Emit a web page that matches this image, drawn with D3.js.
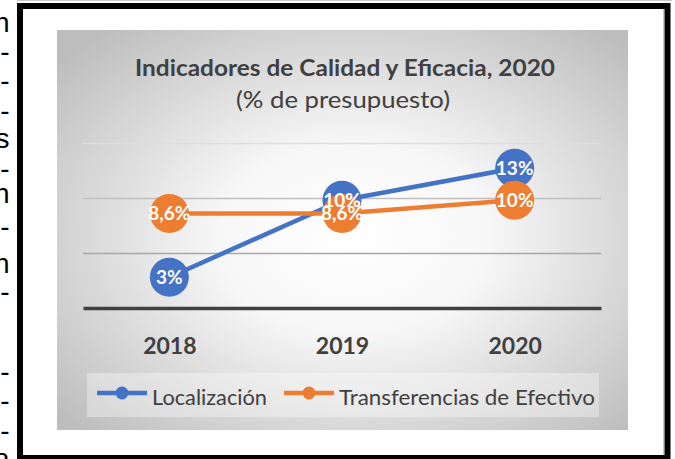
<!DOCTYPE html>
<html><head><meta charset="utf-8">
<script src="https://cdn.jsdelivr.net/npm/d3@7"></script>
<style>html,body{margin:0;padding:0;background:#fff;overflow:hidden}</style>
</head><body>
<script>
// ---- data ----
const years = ["2018", "2019", "2020"];
const localizacion = [2.8, 9.8, 12.7];
const transferencias = [8.6, 8.6, 9.8];
const localizacionLabels = ["3%", "10%", "13%"];
const transferenciasLabels = ["8,6%", "8,6%", "10%"];
const seriesNames = ["Localización", "Transferencias de Efectivo"];
const gridValues = [5, 10, 15];
const titleText = "Indicadores de Calidad y Eficacia, 2020";
const subtitleText = "(% de presupuesto)";
// clipped ends of the surrounding document's text lines
const marginChars = ["n", "-", "-", "-", "s", "-", "n", "-", "n", "-", "-", "-", "-", "a"];

// ---- styles / layout ----
const colors = ["#4472C4", "#ED7D31"];
const gridColors = {5: "#a8a8a8", 10: "#c0c0c0", 15: "#dedede"};
const marginY = [32, 61, 90, 120, 148, 178, 203, 236, 273, 301, 381, 410, 440, 468];
const W = 675, H = 459;
const font = "Lato, sans-serif";

const svg = d3.select("body").append("svg").attr("width", W).attr("height", H);
const defs = svg.append("defs");
const grad = defs.append("radialGradient").attr("id", "bg")
  .attr("cx", "52%").attr("cy", "52%").attr("r", "68%");
grad.append("stop").attr("offset", "0").attr("stop-color", "#ffffff");
grad.append("stop").attr("offset", "0.35").attr("stop-color", "#f7f7f7");
grad.append("stop").attr("offset", "1").attr("stop-color", "#bdbdbd");

// surrounding document text
svg.append("g").selectAll("text").data(marginChars).join("text")
  .attr("x", 9.5).attr("y", (d, i) => marginY[i])
  .attr("text-anchor", "end")
  .attr("font-family", "Liberation Sans, Arial, sans-serif")
  .attr("font-size", 28).attr("fill", "#000").text(d => d);

// page frame
svg.append("line").attr("x1", 17).attr("x2", 672).attr("y1", 0.5).attr("y2", 0.5)
  .attr("stroke", "#c8c8c8").attr("stroke-width", 1);
svg.append("line").attr("x1", 663.5).attr("x2", 663.5).attr("y1", 9).attr("y2", 455)
  .attr("stroke", "#c8c8c8").attr("stroke-width", 1);
svg.append("rect").attr("x", 20).attr("y", 6).attr("width", 647.5).attr("height", 452)
  .attr("fill", "none").attr("stroke", "#000").attr("stroke-width", 6);

// chart area
svg.append("rect").attr("x", 57).attr("y", 30).attr("width", 571).attr("height", 400)
  .attr("fill", "url(#bg)");

// title
svg.append("text").attr("x", 345).attr("y", 76).attr("text-anchor", "middle")
  .attr("font-family", font).attr("font-weight", "bold").attr("font-size", 22)
  .attr("fill", "#404040").attr("textLength", 420).attr("lengthAdjust", "spacingAndGlyphs")
  .text(titleText);
svg.append("text").attr("x", 343).attr("y", 108).attr("text-anchor", "middle")
  .attr("font-family", font).attr("font-size", 23)
  .attr("fill", "#404040").attr("textLength", 214).attr("lengthAdjust", "spacingAndGlyphs")
  .text(subtitleText);

// scales
const x = d3.scalePoint().domain(years).range([83, 601]).padding(0.5);
const y = d3.scaleLinear().domain([0, 15]).range([308, 143]);

// gridlines
const gridAxis = svg.append("g").attr("transform", "translate(83,0)")
  .call(d3.axisLeft(y).tickValues(gridValues).tickSize(-518).tickFormat(""));
gridAxis.select(".domain").remove();
gridAxis.selectAll(".tick line").attr("stroke", d => gridColors[d]).attr("stroke-width", 1.5);

// x axis
const xAxis = svg.append("g").attr("transform", `translate(0,${y(0)})`)
  .call(d3.axisBottom(x).tickSize(0).tickSizeOuter(0));
xAxis.select(".domain").attr("stroke", "#404040").attr("stroke-width", 3.5);
xAxis.selectAll(".tick text").attr("y", 46).attr("dy", 0)
  .attr("font-family", font).attr("font-weight", "bold").attr("font-size", 23)
  .attr("fill", "#404040");

// series
const series = [
  {vals: localizacion, labels: localizacionLabels, color: colors[0]},
  {vals: transferencias, labels: transferenciasLabels, color: colors[1]}
];
const line = d3.line().x((d, i) => x(years[i])).y(d => y(d));
series.forEach(s => {
  const g = svg.append("g");
  g.append("path").datum(s.vals).attr("d", line).attr("fill", "none")
    .attr("stroke", s.color).attr("stroke-width", 4.5).attr("stroke-linejoin", "round");
  g.selectAll("circle").data(s.vals).join("circle")
    .attr("cx", (d, i) => x(years[i])).attr("cy", d => y(d)).attr("r", 19.5)
    .attr("fill", s.color);
});
series.forEach(s => {
  svg.append("g").selectAll("text").data(s.vals).join("text")
    .attr("x", (d, i) => x(years[i])).attr("y", d => y(d)).attr("dy", "0.36em")
    .attr("text-anchor", "middle").attr("font-family", font).attr("font-weight", "bold")
    .attr("font-size", 19).attr("fill", "#fff").text((d, i) => s.labels[i]);
});

// legend
svg.append("rect").attr("x", 87).attr("y", 373).attr("width", 512).attr("height", 44)
  .attr("fill", "#ffffff").attr("fill-opacity", 0.35);
const legendX = [97, 284];
const legendW = [115, 256];
seriesNames.forEach((name, i) => {
  const g = svg.append("g").attr("transform", `translate(${legendX[i]},393)`);
  g.append("line").attr("x1", 0).attr("x2", 50).attr("stroke", colors[i]).attr("stroke-width", 4.5);
  g.append("circle").attr("cx", 25).attr("r", 6.5).attr("fill", colors[i]);
  g.append("text").attr("x", 55).attr("y", 12).attr("font-family", font).attr("font-size", 21)
    .attr("fill", "#404040").attr("textLength", legendW[i]).attr("lengthAdjust", "spacingAndGlyphs")
    .text(name);
});
</script>
</body></html>
